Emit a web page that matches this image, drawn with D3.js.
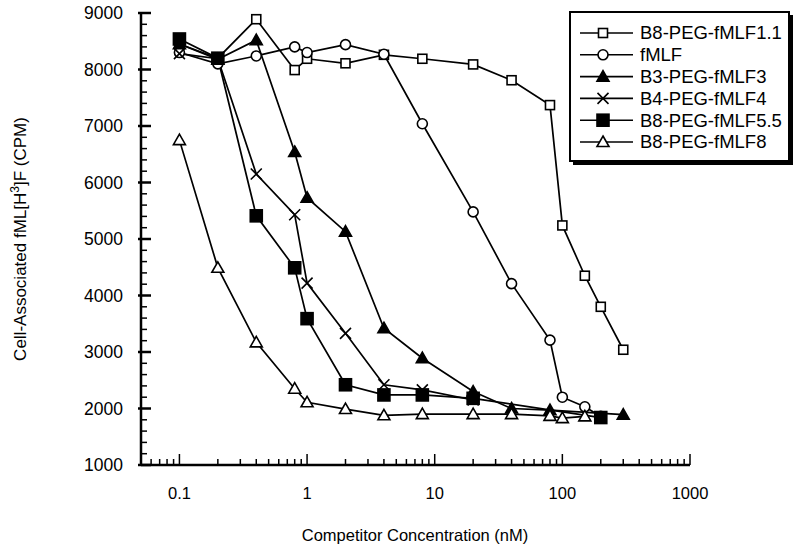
<!DOCTYPE html>
<html>
<head>
<meta charset="utf-8">
<script src="https://cdn.jsdelivr.net/npm/d3@7"></script>
<style>
  body { margin: 0; background: #fff; }
  svg { font-family: 'Liberation Sans', Arial, sans-serif; }
</style>
</head>
<body>
<div id="chart"></div>
<script>
// competitor concentrations (nM) and bound counts (CPM)
const concB811 = [0.1, 0.2, 0.4, 0.8, 1, 2, 4, 8, 20, 40, 80, 100, 150, 200, 300]
const cpmB811 = [8450, 8200, 8890, 7990, 8190, 8110, 8260, 8190, 8090, 7810, 7370, 5240, 4350, 3800, 3040]

const concFMLF = [0.1, 0.2, 0.4, 0.8, 1, 2, 4, 8, 20, 40, 80, 100, 150, 200]
const cpmFMLF = [8300, 8100, 8240, 8400, 8300, 8440, 8270, 7040, 5480, 4210, 3210, 2200, 2030, 1860]

const concB33 = [0.1, 0.2, 0.4, 0.8, 1, 2, 4, 8, 20, 40, 80, 300]
const cpmB33 = [8450, 8180, 8520, 6540, 5730, 5130, 3420, 2890, 2300, 2000, 1970, 1890]

const concB44 = [0.1, 0.2, 0.4, 0.8, 1, 2, 4, 8, 20]
const cpmB44 = [8280, 8190, 6150, 5430, 4220, 3330, 2420, 2330, 2150]

const concB855 = [0.1, 0.2, 0.4, 0.8, 1, 2, 4, 8, 20, 200]
const cpmB855 = [8540, 8200, 5410, 4490, 3590, 2420, 2240, 2240, 2180, 1840]

const concB88 = [0.1, 0.2, 0.4, 0.8, 1, 2, 4, 8, 20, 40, 80, 100, 150]
const cpmB88 = [6750, 4490, 3170, 2350, 2110, 1990, 1880, 1900, 1900, 1900, 1870, 1830, 1860]

const seriesNames = ['B8-PEG-fMLF1.1', 'fMLF', 'B3-PEG-fMLF3', 'B4-PEG-fMLF4', 'B8-PEG-fMLF5.5', 'B8-PEG-fMLF8']
const seriesMarks = ['square', 'circle', 'triangleFilled', 'cross', 'squareFilled', 'triangle']

const yTicks = [1000, 2000, 3000, 4000, 5000, 6000, 7000, 8000, 9000]
const xTickLabels = [0.1, 1, 10, 100, 1000]

const series = [
  { x: concB811, y: cpmB811 },
  { x: concFMLF, y: cpmFMLF },
  { x: concB33, y: cpmB33 },
  { x: concB44, y: cpmB44 },
  { x: concB855, y: cpmB855 },
  { x: concB88, y: cpmB88 }
].map((s, i) => ({
  name: seriesNames[i],
  mark: seriesMarks[i],
  points: s.x.map((c, j) => ({ c, v: s.y[j] }))
}))

const width = 800
const height = 551

const svg = d3.select('#chart').append('svg')
  .attr('width', width)
  .attr('height', height)

const x = d3.scaleLog().domain([0.05, 1000]).range([141, 690])
const y = d3.scaleLinear().domain([1000, 9000]).range([465, 13])

// marker drawing
function drawMark (g, type, cx, cy) {
  const s = 4.5
  if (type === 'square' || type === 'squareFilled') {
    const r = type === 'squareFilled' ? 6 : s
    g.append('rect')
      .attr('x', cx - r).attr('y', cy - r)
      .attr('width', 2 * r).attr('height', 2 * r)
      .attr('fill', type === 'squareFilled' ? '#000' : '#fff')
      .attr('stroke', '#000').attr('stroke-width', 1.6)
  } else if (type === 'circle') {
    g.append('circle')
      .attr('cx', cx).attr('cy', cy).attr('r', 5)
      .attr('fill', '#fff')
      .attr('stroke', '#000').attr('stroke-width', 1.6)
  } else if (type === 'triangle' || type === 'triangleFilled') {
    const r = 6
    g.append('path')
      .attr('d', `M${cx},${cy - r}L${cx + r},${cy + r * 0.75}L${cx - r},${cy + r * 0.75}Z`)
      .attr('fill', type === 'triangleFilled' ? '#000' : '#fff')
      .attr('stroke', '#000').attr('stroke-width', 1.6)
  } else if (type === 'cross') {
    const r = 5.5
    g.append('path')
      .attr('d', `M${cx - r},${cy - r}L${cx + r},${cy + r}M${cx - r},${cy + r}L${cx + r},${cy - r}`)
      .attr('stroke', '#000').attr('stroke-width', 1.6)
  }
}

// axes
const axes = svg.append('g').attr('stroke', '#000')

axes.append('line')
  .attr('x1', x.range()[0]).attr('x2', x.range()[1])
  .attr('y1', y(1000)).attr('y2', y(1000))
  .attr('stroke-width', 2.5)

axes.append('line')
  .attr('x1', x.range()[0]).attr('x2', x.range()[0])
  .attr('y1', y(1000)).attr('y2', y(9000))
  .attr('stroke-width', 2.5)

// x ticks point up into the plot
x.ticks().forEach(t => {
  const major = Math.abs(Math.log10(t) - Math.round(Math.log10(t))) < 1e-6
  axes.append('line')
    .attr('x1', x(t)).attr('x2', x(t))
    .attr('y1', y(1000)).attr('y2', y(1000) - (major ? 11 : 6))
    .attr('stroke-width', 1.5)
})

// y ticks point right, minor every 200
d3.range(1000, 9001, 200).forEach(t => {
  const major = t % 1000 === 0
  axes.append('line')
    .attr('x1', x.range()[0] - (major ? 3 : 0)).attr('x2', x.range()[0] + (major ? 10 : 6))
    .attr('y1', y(t)).attr('y2', y(t))
    .attr('stroke-width', major ? 2.5 : 1.5)
})

svg.append('g')
  .selectAll('text')
  .data(yTicks)
  .enter()
  .append('text')
  .attr('x', 123)
  .attr('y', d => y(d))
  .attr('dy', '0.35em')
  .attr('text-anchor', 'end')
  .style('font-size', '17.5px')
  .text(d => d)

svg.append('g')
  .selectAll('text')
  .data(xTickLabels)
  .enter()
  .append('text')
  .attr('x', d => x(d))
  .attr('y', 499)
  .attr('text-anchor', 'middle')
  .style('font-size', '16.5px')
  .text(d => d)

svg.append('text')
  .attr('x', 415)
  .attr('y', 541)
  .attr('text-anchor', 'middle')
  .style('font-size', '16.5px')
  .text('Competitor Concentration (nM)')

const yTitle = svg.append('text')
  .attr('transform', 'translate(26,239) rotate(-90)')
  .attr('text-anchor', 'middle')
  .style('font-size', '17px')
yTitle.append('tspan').text('Cell-Associated fML[H')
yTitle.append('tspan').attr('dy', -7).style('font-size', '12px').text('3')
yTitle.append('tspan').attr('dy', 7).text(']F (CPM)')

// lines and markers
const line = d3.line()
  .x(d => x(d.c))
  .y(d => y(d.v))

const plot = svg.append('g')

series.forEach(s => {
  plot.append('path')
    .datum(s.points)
    .attr('fill', 'none')
    .attr('stroke', '#000')
    .attr('stroke-width', 1.7)
    .attr('d', line)
})

series.forEach(s => {
  const g = plot.append('g')
  s.points.forEach(p => drawMark(g, s.mark, x(p.c), y(p.v)))
})

// legend with drop shadow
const legend = svg.append('g')
legend.append('rect')
  .attr('x', 573).attr('y', 15)
  .attr('width', 220).attr('height', 150)
  .attr('fill', '#000')
legend.append('rect')
  .attr('x', 570).attr('y', 12)
  .attr('width', 219).attr('height', 149)
  .attr('fill', '#fff')
  .attr('stroke', '#000').attr('stroke-width', 2)

series.forEach((s, i) => {
  const ly = 33 + i * 21.8
  legend.append('line')
    .attr('x1', 580).attr('x2', 633)
    .attr('y1', ly).attr('y2', ly)
    .attr('stroke', '#000').attr('stroke-width', 1.6)
  drawMark(legend, s.mark, 603, ly)
  legend.append('text')
    .attr('x', 640).attr('y', ly)
    .attr('dy', '0.35em')
    .style('font-size', '18.5px')
    .text(s.name)
})
</script>
</body>
</html>
